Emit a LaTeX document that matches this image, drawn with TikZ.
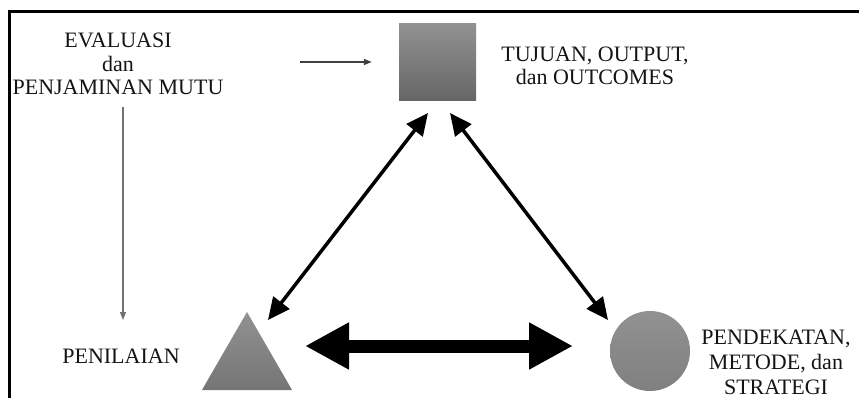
\documentclass[tikz,border=0pt]{standalone}
\usepackage{fontspec}
\setmainfont{Liberation Serif}
\usetikzlibrary{arrows.meta,shapes.geometric}

\definecolor{abuterang}{gray}{0.57}
\definecolor{abusedang}{gray}{0.50}
\definecolor{abugelap}{gray}{0.40}

\begin{document}
\begin{tikzpicture}[x=1pt, y=-1pt,
  every node/.style={inner sep=0pt},
  teks/.style={font=\fontsize{22}{23.5}\selectfont, align=center, text=black!92},
  kotak/.style={rectangle, minimum size=77pt, shade, shading angle=-45, top color=abuterang, bottom color=abugelap},
  segitiga/.style={regular polygon, regular polygon sides=3, minimum size=104pt, shade, top color=abuterang, bottom color=abugelap!90!white},
  lingkaran/.style={circle, minimum size=80pt, shade, shading angle=-45, top color=abuterang, bottom color=abusedang},
  tipis/.style={-{Triangle[length=8pt, width=6pt]}, line width=1.3pt},
  panah/.style={{Triangle[length=22pt, width=20pt]}-{Triangle[length=22pt, width=20pt]}, line width=3.5pt},
  tebal/.style={{Triangle[length=44pt, width=44pt]}-{Triangle[length=44pt, width=44pt]}, line width=13pt},
  ]
  \useasboundingbox (0,0) rectangle (859,398);
  \draw[line width=3pt] (9,398) -- (9,11.5) -- (859,11.5);

  \node[kotak] (kotak) at (437.5,62) {};
  \node[segitiga] (segitiga) at (247,364) {};
  \node[lingkaran] (lingkaran) at (650,351) {};

  \node[teks] (evaluasi) at (118,64) {EVALUASI\\dan\\PENJAMINAN MUTU};
  \node[teks] (tujuan) at (595,66) {TUJUAN, OUTPUT,\\dan OUTCOMES};
  \node[teks, anchor=base] (penilaian) at (121,363) {PENILAIAN};
  \node[teks, font=\fontsize{22}{25}\selectfont] (pendekatan) at (776,362) {PENDEKATAN,\\METODE, dan\\STRATEGI};

  \coordinate (h1) at (300,62);
  \coordinate (v1) at (123,107);
  \coordinate (v2) at (123,320);
  \draw[tipis, black!75, shorten >=27pt] (h1) -- (kotak.west);
  \draw[tipis, black!55] (v1) -- (v2);

  \coordinate (kiri1) at (268,320);
  \coordinate (kiri2) at (428,113);
  \coordinate (kanan1) at (450,113);
  \coordinate (kanan2) at (608,320);
  \draw[panah] (kiri1) -- (kiri2);
  \draw[panah] (kanan1) -- (kanan2);

  \coordinate (bawah1) at (305,346);
  \coordinate (bawah2) at (573,346);
  \draw[tebal] (bawah1) -- (bawah2);
\end{tikzpicture}
\end{document}
